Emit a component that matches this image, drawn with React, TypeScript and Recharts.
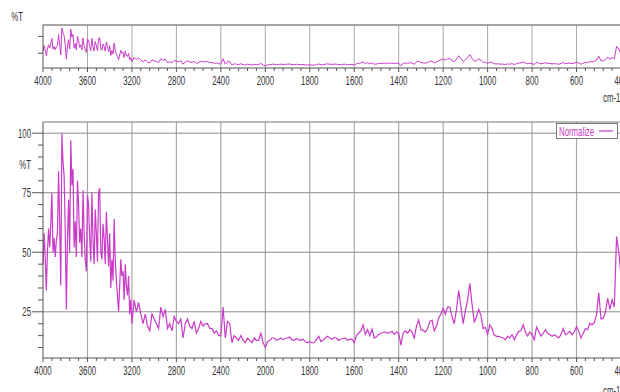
import { LineChart, Line, XAxis, YAxis, CartesianGrid, ReferenceLine } from 'recharts'

// 4000 -> 3200 cm-1, every 10
const highStart = 4000
const highStep = 10
const highT = [
  45, 58, 48, 34, 50, 60, 52, 62, 75, 50,
  56, 48, 55, 58, 84, 62, 36, 100, 88, 82,
  60, 26, 55, 72, 50, 97, 78, 85, 52, 63,
  48, 80, 70, 54, 60, 48, 76, 58, 47, 42,
  74, 70, 56, 46, 75, 55, 45, 68, 58, 46,
  75, 77, 50, 47, 62, 56, 45, 67, 56, 44,
  58, 35, 47, 38, 64, 47, 38, 32, 25, 36,
  47, 40, 42, 30, 45, 36, 32, 40, 24, 30,
  20,
]

// 3180 -> 2000 cm-1, every 20
const midStart = 3180
const midStep = 20
const midT = [
  30, 25, 29, 24, 20, 24, 19, 17, 24, 22,
  20, 18, 27, 23, 26, 18, 20, 17, 23, 21,
  20, 22, 14, 20, 22, 19, 18, 21, 16, 18,
  21, 19, 20, 20, 18, 18, 16, 17, 15, 15,
  27, 14, 21, 20, 12, 15, 14, 13, 15, 13,
  12, 14, 13, 12, 14, 13, 13, 16, 12, 10,
]

// 1990 -> 400 cm-1, every 10
const lowStart = 1990
const lowStep = 10
const lowT = [
  12.5, 13, 14, 14, 13, 13.5, 14, 13.3, 13.8, 14,
  14.4, 13.2, 13, 13.8, 13.3, 13, 13.5, 12.4, 12, 12.5,
  12, 12, 13.3, 14.7, 12.5, 13, 14, 14.7, 14, 13.5,
  14.2, 14, 13, 13.6, 13.8, 14, 13, 13.5, 13.5, 12,
  15, 16, 17, 19.5, 15.5, 17.5, 15, 17.7, 14, 14.5,
  15.5, 16, 16.3, 16.5, 16, 16.4, 16.8, 15.5, 16.5, 16,
  11, 16, 17, 16, 17.5, 16.5, 14, 19, 21.6, 17.5,
  17.2, 16.5, 18, 21, 21.5, 17, 19, 22.5, 24, 26.5,
  24, 27, 27, 23, 20, 26, 34, 27, 20, 25.5,
  30, 37, 28, 20.5, 23, 26, 23.5, 18, 18.5, 15.5,
  19.5, 18, 15.2, 14.7, 14.7, 14.3, 14, 13.3, 14.7, 14,
  15.4, 13.3, 15.2, 16.8, 17, 19.5, 16.5, 14.8, 16.5, 15.4,
  13.3, 18.6, 16.8, 14.8, 16, 17.5, 16, 15.5, 14.7, 15.4,
  14.7, 14, 15.4, 18, 15.4, 16, 16.8, 15.4, 16.5, 18.8,
  16.8, 14, 16, 18, 17.5, 20.2, 19.5, 20.5, 23.7, 33,
  22, 22.3, 25, 30.7, 26, 30, 27, 56.6, 50, 40,
]

const xTickLabels = [4000, 3600, 3200, 2800, 2400, 2000, 1800, 1600, 1400, 1200, 1000, 800, 600, 400]
const yTickLabels = [25, 50, 75, 100]
const yMinorTicks = [10, 15, 20, 25, 30, 35, 40, 45, 50, 55, 60, 65, 70, 75, 80, 85, 90, 95, 100]
const topYTicks = [40, 80]
const seriesName = 'Normalize'

const LINE = '#c93ac9'
const AXIS = '#555'
const TEXT = '#333'
const FONT = "'Liberation Sans', Arial, sans-serif"

// IR abscissa: scale is doubled below 2000 cm-1
const pos = (w: number) => (w >= 2000 ? (4000 - w) / 400 : 5 + (2000 - w) / 200)

const spectrum = [
  ...highT.map((t, i) => ({ wn: highStart - i * highStep, t })),
  ...midT.map((t, i) => ({ wn: midStart - i * midStep, t })),
  ...lowT.map((t, i) => ({ wn: lowStart - i * lowStep, t })),
].map((d) => ({ ...d, x: pos(d.wn) }))

const majorX = xTickLabels.map(pos)
const xTicks: number[] = []
majorX.forEach((p, i) => {
  xTicks.push(p)
  if (i < majorX.length - 1) {
    for (let k = 1; k < 5; k++) xTicks.push(p + ((majorX[i + 1] - p) * k) / 5)
  }
})

function squeezed(x: number, y: number, txt: string | number, anchor: string, size = 13, fill = TEXT) {
  return (
    <text transform={`translate(${x},${y}) scale(0.6,1)`} textAnchor={anchor} fontSize={size} fill={fill} fontFamily={FONT}>
      {txt}
    </text>
  )
}

function XTick({ x, y, payload }: any) {
  const idx = xTickLabels.findIndex((l) => Math.abs(pos(l) - payload.value) < 1e-6)
  const major = idx >= 0
  return (
    <g>
      <line x1={x} x2={x} y1={y} y2={y + (major ? 4 : 3)} stroke={AXIS} />
      {major && squeezed(x, y + 16.5, xTickLabels[idx], 'middle')}
    </g>
  )
}

function YTick({ x, y, payload }: any) {
  const major = yTickLabels.includes(payload.value)
  return (
    <g>
      <line x1={x - (major ? 11 : 5)} x2={x} y1={y} y2={y} stroke={AXIS} />
      {major && squeezed(x - 12, y + 4.5, payload.value, 'end')}
    </g>
  )
}

function TopYTick({ x, y }: any) {
  return <line x1={x - 5} x2={x} y1={y} y2={y} stroke={AXIS} />
}

const TOP_DOMAIN: [number, number] = [5, 107]
const BOTTOM_DOMAIN: [number, number] = [5.6, 104.7]

export default function App() {
  return (
    <div style={{ position: 'absolute', left: 0, top: 0, width: 620, height: 392, overflow: 'hidden', background: '#fff' }}>
      {/* overview strip */}
      <div style={{ position: 'absolute', left: 0, top: 0 }}>
        <LineChart width={640} height={100} data={spectrum} margin={{ top: 25, right: 19, bottom: 12, left: 23 }}>
          <CartesianGrid horizontal={false} verticalValues={majorX.slice(1)} stroke="#a8a8a8" />
          <XAxis
            dataKey="x"
            type="number"
            domain={[0, 13]}
            ticks={xTicks}
            interval={0}
            height={20}
            tickSize={0}
            tickMargin={0}
            tick={XTick}
            axisLine={{ stroke: AXIS }}
          />
          <YAxis
            type="number"
            domain={TOP_DOMAIN}
            ticks={topYTicks}
            interval={0}
            width={20}
            tickSize={0}
            tickMargin={0}
            tick={TopYTick}
            axisLine={{ stroke: AXIS }}
          />
          <ReferenceLine y={TOP_DOMAIN[1]} stroke="#888" strokeWidth={1.5} />
          <Line dataKey="t" type="linear" dot={false} stroke={LINE} strokeWidth={1} isAnimationActive={false} />
        </LineChart>
      </div>

      {/* main spectrum */}
      <div style={{ position: 'absolute', left: 0, top: 110 }}>
        <LineChart width={640} height={282} data={spectrum} margin={{ top: 12, right: 19, bottom: 10, left: 23 }}>
          <CartesianGrid horizontal={false} verticalValues={majorX.slice(1)} stroke="#a8a8a8" strokeWidth={1.2} />
          <CartesianGrid vertical={false} horizontalValues={yTickLabels} stroke="#8a8a8a" />
          <XAxis
            dataKey="x"
            type="number"
            domain={[0, 13]}
            ticks={xTicks}
            interval={0}
            height={24}
            tickSize={0}
            tickMargin={0}
            tick={XTick}
            axisLine={{ stroke: AXIS }}
          />
          <YAxis
            type="number"
            domain={BOTTOM_DOMAIN}
            ticks={yMinorTicks}
            interval={0}
            width={20}
            tickSize={0}
            tickMargin={0}
            tick={YTick}
            axisLine={{ stroke: AXIS }}
          />
          <ReferenceLine y={BOTTOM_DOMAIN[1]} stroke="#777" />
          <Line dataKey="t" name={seriesName} type="linear" dot={false} stroke={LINE} strokeWidth={1.2} isAnimationActive={false} />
        </LineChart>
      </div>

      {/* axis captions and legend */}
      <svg width={620} height={392} style={{ position: 'absolute', left: 0, top: 0, pointerEvents: 'none' }}>
        {squeezed(23, 21, '%T', 'end')}
        {squeezed(31, 168.5, '%T', 'end')}
        {squeezed(603, 102, 'cm-1', 'start')}
        {squeezed(603, 395, 'cm-1', 'start')}
        <rect x={556.5} y={123.5} width={61} height={15} fill="#fff" stroke="#777" />
        {squeezed(559, 135.5, seriesName, 'start', 13, LINE)}
        <line x1={599} x2={613} y1={131} y2={131} stroke={LINE} strokeWidth={1.2} />
      </svg>
    </div>
  )
}
